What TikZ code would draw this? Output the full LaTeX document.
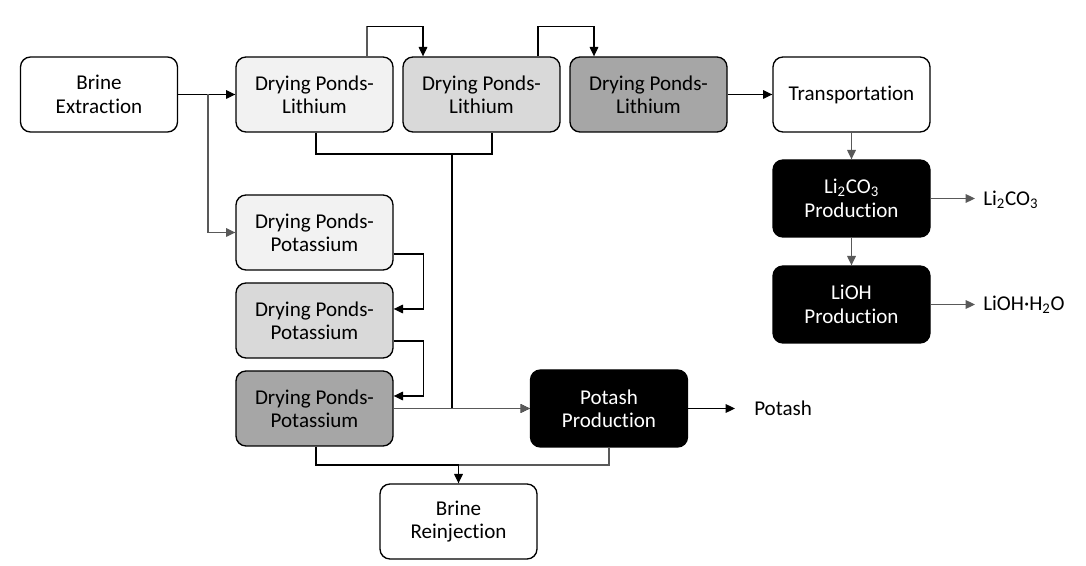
\documentclass[tikz,border=0pt]{standalone}
\usepackage{fontspec}
\setmainfont{Carlito}[Ligatures=NoCommon]
\usetikzlibrary{arrows.meta,calc}
\begin{document}
\begin{tikzpicture}[x=0.75pt,y=-0.75pt,
  box/.style={draw=black,line width=1pt,rounded corners=7.5pt,minimum width=117.75pt,minimum height=56.25pt,align=center,font=\fontsize{15.8}{17.5}\selectfont,inner sep=0pt},
  wbox/.style={box,fill=white},
  l1/.style={box,fill=black!5},
  l2/.style={box,fill=black!15},
  l3/.style={box,fill=black!35},
  dbox/.style={box,fill=black,text=white,minimum height=57.75pt},
  conn/.style={line width=0.85pt,draw=black},
  gconn/.style={line width=0.85pt,draw=black!65},
  arr/.style={-{Triangle[length=7pt,width=6.5pt]}},
  lbl/.style={anchor=west,font=\fontsize{15.8}{17.5}\selectfont,inner sep=0pt}
]
\useasboundingbox (0,0) rectangle (1086,566);
% nodes
\node[wbox] (BE) at (99,94.5) {Brine\\Extraction};
\node[l1] (DL1) at (314.5,94.5) {Drying Ponds-\\Lithium};
\node[l2] (DL2) at (481.5,94.5) {Drying Ponds-\\Lithium};
\node[l3] (DL3) at (648.5,94.5) {Drying Ponds-\\Lithium};
\node[wbox] (TR) at (851.5,94.5) {Transportation};
\node[dbox] (LC) at (851.5,198.5) {Li\textsubscript{2}CO\textsubscript{3}\\Production};
\node[dbox] (LH) at (851.5,304.5) {LiOH\\Production};
\node[l1] (DK1) at (314.5,232.5) {Drying Ponds-\\Potassium};
\node[l2] (DK2) at (314.5,320.5) {Drying Ponds-\\Potassium};
\node[l3] (DK3) at (314.5,408.5) {Drying Ponds-\\Potassium};
\node[dbox] (PP) at (609,408.5) {Potash\\Production};
\node[wbox] (BR) at (458.5,521.5) {Brine\\Reinjection};
\node[lbl] (LCo) at (983,200) {Li\textsubscript{2}CO\textsubscript{3}};
\node[lbl] (LHo) at (983,305) {LiOH·H\textsubscript{2}O};
\node[lbl] (PPo) at (754,408.5) {Potash};
% coordinates
\coordinate (j1) at (208,94.5);
\coordinate (jl) at (452,154);
\coordinate (jb) at (458.5,465);
\coordinate (LCe) at (975,198.5);
\coordinate (LHe) at (975,304.5);
\coordinate (PPe) at (735,408.5);
% connectors
\draw[conn,arr] (BE.east) -- (DL1.west);
\draw[gconn,arr] (j1) |- (DK1.west);
\draw[gconn] ($(DL1.north)+(52.5,0)$) -- ++(0,-30);
\draw[conn,arr] ($(DL1.north)+(52.5,-30)$) -| ($(DL2.north)+(-58.5,0)$);
\draw[conn,arr] ($(DL2.north)+(56.5,0)$) -- ++(0,-30) -| ($(DL3.north)+(-54.5,0)$);
\draw[conn,arr] (DL3.east) -- (TR.west);
\draw[gconn,arr] (TR.south) -- (LC.north);
\draw[gconn,arr] (LC.south) -- (LH.north);
\draw[gconn,arr] (LC.east) -- (LCe);
\draw[gconn,arr] (LH.east) -- (LHe);
\draw[conn] ($(DL1.south)+(1.5,0)$) |- (jl) -| ($(DL2.south)+(10.5,0)$);
\draw[conn,arr] (jl) |- (PP.west);
\draw[gconn,arr] (DK3.east) -- (PP.west);
\draw[conn,arr] (PP.east) -- (PPe);
\draw[conn,arr] ($(DK1.east)+(0,21.5)$) -- ++(30,0) |- ($(DK2.east)+(0,-11.5)$);
\draw[conn,arr] ($(DK2.east)+(0,20.5)$) -- ++(30,0) |- ($(DK3.east)+(0,-12.5)$);
\draw[conn] ($(DK3.south)+(1.5,0)$) |- (jb);
\draw[gconn] (jb) -| (PP.south);
\draw[conn,arr] (jb) -- (BR.north);
\end{tikzpicture}
\end{document}
